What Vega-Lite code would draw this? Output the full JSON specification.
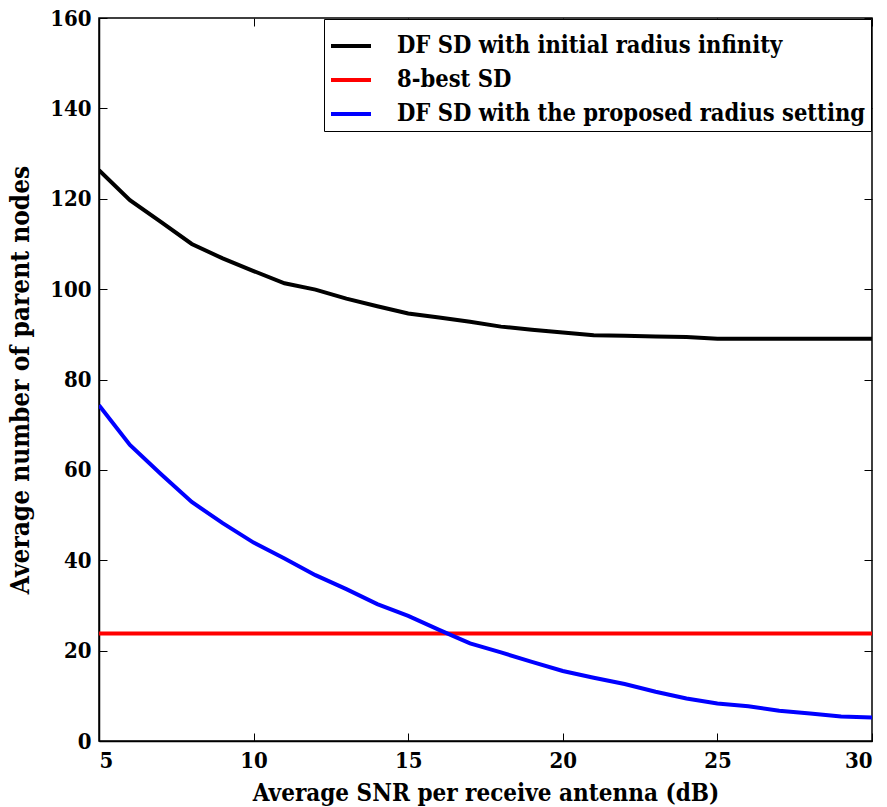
{
  "$schema": "https://vega.github.io/schema/vega-lite/v6.json",
  "autosize": "none",
  "padding": {"left": 99, "top": 18, "right": 15, "bottom": 66},
  "width": 773,
  "height": 723,
  "config": {
    "font": "DejaVu Serif Condensed",
    "view": {"stroke": "black", "strokeWidth": 1.5},
    "axis": {
      "labelFont": "DejaVu Serif Condensed", "labelFontWeight": "bold", "labelFontSize": 22, "labelColor": "black",
      "titleFont": "DejaVu Serif Condensed", "titleFontWeight": "bold", "titleFontSize": 25, "titleColor": "black",
      "domainColor": "black", "tickColor": "black", "grid": false
    }
  },
  "data": {"values": [
    {"snr": 5, "nodes": 126.3, "method": "DF SD with initial radius infinity"},
    {"snr": 6, "nodes": 119.7, "method": "DF SD with initial radius infinity"},
    {"snr": 7, "nodes": 114.9, "method": "DF SD with initial radius infinity"},
    {"snr": 8, "nodes": 110.0, "method": "DF SD with initial radius infinity"},
    {"snr": 9, "nodes": 106.8, "method": "DF SD with initial radius infinity"},
    {"snr": 10, "nodes": 104.0, "method": "DF SD with initial radius infinity"},
    {"snr": 11, "nodes": 101.3, "method": "DF SD with initial radius infinity"},
    {"snr": 12, "nodes": 99.9, "method": "DF SD with initial radius infinity"},
    {"snr": 13, "nodes": 97.9, "method": "DF SD with initial radius infinity"},
    {"snr": 14, "nodes": 96.2, "method": "DF SD with initial radius infinity"},
    {"snr": 15, "nodes": 94.6, "method": "DF SD with initial radius infinity"},
    {"snr": 16, "nodes": 93.7, "method": "DF SD with initial radius infinity"},
    {"snr": 17, "nodes": 92.8, "method": "DF SD with initial radius infinity"},
    {"snr": 18, "nodes": 91.7, "method": "DF SD with initial radius infinity"},
    {"snr": 19, "nodes": 91.0, "method": "DF SD with initial radius infinity"},
    {"snr": 20, "nodes": 90.4, "method": "DF SD with initial radius infinity"},
    {"snr": 21, "nodes": 89.8, "method": "DF SD with initial radius infinity"},
    {"snr": 22, "nodes": 89.7, "method": "DF SD with initial radius infinity"},
    {"snr": 23, "nodes": 89.5, "method": "DF SD with initial radius infinity"},
    {"snr": 24, "nodes": 89.4, "method": "DF SD with initial radius infinity"},
    {"snr": 25, "nodes": 89.0, "method": "DF SD with initial radius infinity"},
    {"snr": 26, "nodes": 89.0, "method": "DF SD with initial radius infinity"},
    {"snr": 27, "nodes": 89.0, "method": "DF SD with initial radius infinity"},
    {"snr": 28, "nodes": 89.0, "method": "DF SD with initial radius infinity"},
    {"snr": 29, "nodes": 89.0, "method": "DF SD with initial radius infinity"},
    {"snr": 30, "nodes": 89.0, "method": "DF SD with initial radius infinity"},
    {"snr": 5, "nodes": 23.8, "method": "8-best SD"},
    {"snr": 30, "nodes": 23.8, "method": "8-best SD"},
    {"snr": 5, "nodes": 74.3, "method": "DF SD with the proposed radius setting"},
    {"snr": 6, "nodes": 65.5, "method": "DF SD with the proposed radius setting"},
    {"snr": 7, "nodes": 59.1, "method": "DF SD with the proposed radius setting"},
    {"snr": 8, "nodes": 52.9, "method": "DF SD with the proposed radius setting"},
    {"snr": 9, "nodes": 48.2, "method": "DF SD with the proposed radius setting"},
    {"snr": 10, "nodes": 43.9, "method": "DF SD with the proposed radius setting"},
    {"snr": 11, "nodes": 40.4, "method": "DF SD with the proposed radius setting"},
    {"snr": 12, "nodes": 36.7, "method": "DF SD with the proposed radius setting"},
    {"snr": 13, "nodes": 33.6, "method": "DF SD with the proposed radius setting"},
    {"snr": 14, "nodes": 30.3, "method": "DF SD with the proposed radius setting"},
    {"snr": 15, "nodes": 27.7, "method": "DF SD with the proposed radius setting"},
    {"snr": 16, "nodes": 24.6, "method": "DF SD with the proposed radius setting"},
    {"snr": 17, "nodes": 21.6, "method": "DF SD with the proposed radius setting"},
    {"snr": 18, "nodes": 19.6, "method": "DF SD with the proposed radius setting"},
    {"snr": 19, "nodes": 17.5, "method": "DF SD with the proposed radius setting"},
    {"snr": 20, "nodes": 15.5, "method": "DF SD with the proposed radius setting"},
    {"snr": 21, "nodes": 14.0, "method": "DF SD with the proposed radius setting"},
    {"snr": 22, "nodes": 12.6, "method": "DF SD with the proposed radius setting"},
    {"snr": 23, "nodes": 10.9, "method": "DF SD with the proposed radius setting"},
    {"snr": 24, "nodes": 9.4, "method": "DF SD with the proposed radius setting"},
    {"snr": 25, "nodes": 8.3, "method": "DF SD with the proposed radius setting"},
    {"snr": 26, "nodes": 7.7, "method": "DF SD with the proposed radius setting"},
    {"snr": 27, "nodes": 6.7, "method": "DF SD with the proposed radius setting"},
    {"snr": 28, "nodes": 6.1, "method": "DF SD with the proposed radius setting"},
    {"snr": 29, "nodes": 5.4, "method": "DF SD with the proposed radius setting"},
    {"snr": 30, "nodes": 5.2, "method": "DF SD with the proposed radius setting"}
  ]},
  "resolve": {"axis": {"x": "independent", "y": "independent"}},
  "layer": [
    {
      "mark": {"type": "line", "strokeWidth": 4, "clip": true},
      "encoding": {
        "x": {"field": "snr", "type": "quantitative", "scale": {"domain": [5, 30], "nice": false},
              "axis": {"orient": "bottom", "title": "Average SNR per receive antenna (dB)", "titleFontSize": 24, "values": [5, 10, 15, 20, 25, 30], "ticks": false, "labelPadding": 9, "titlePadding": 10, "domainWidth": 1.5}},
        "y": {"field": "nodes", "type": "quantitative", "scale": {"domain": [0, 160], "nice": false},
              "axis": {"orient": "left", "title": "Average number of parent nodes", "titleFontSize": 26, "values": [0, 20, 40, 60, 80, 100, 120, 140, 160], "ticks": false, "labelPadding": 8, "titlePadding": 16, "domainWidth": 1.5}},
        "color": {"field": "method", "type": "nominal",
                  "scale": {"domain": ["DF SD with initial radius infinity", "8-best SD", "DF SD with the proposed radius setting"], "range": ["black", "red", "blue"]},
                  "legend": {"title": null, "orient": "top-right", "offset": 1, "symbolType": "stroke", "symbolSize": 1600, "symbolStrokeWidth": 4,
                             "labelFont": "DejaVu Serif Condensed", "labelFontWeight": "bold", "labelFontSize": 23.5, "labelColor": "black", "labelLimit": 0,
                             "strokeColor": "black", "fillColor": "white", "padding": 5, "rowPadding": 0, "labelOffset": 24}}
      }
    },
    {
      "mark": {"type": "line", "opacity": 0},
      "encoding": {
        "x": {"field": "snr", "type": "quantitative", "scale": {"domain": [5, 30], "nice": false},
              "axis": {"orient": "bottom", "offset": -8, "tickSize": 8, "labels": false, "domain": false, "title": null, "values": [5, 10, 15, 20, 25, 30]}},
        "y": {"field": "nodes", "type": "quantitative", "scale": {"domain": [0, 160], "nice": false},
              "axis": {"orient": "left", "offset": -8, "tickSize": 8, "labels": false, "domain": false, "title": null, "values": [0, 20, 40, 60, 80, 100, 120, 140, 160]}}
      }
    },
    {
      "mark": {"type": "line", "opacity": 0},
      "encoding": {
        "x": {"field": "snr", "type": "quantitative", "scale": {"domain": [5, 30], "nice": false},
              "axis": {"orient": "top", "offset": -8, "tickSize": 8, "labels": false, "domain": false, "title": null, "values": [5, 10, 15, 20, 25, 30]}},
        "y": {"field": "nodes", "type": "quantitative", "scale": {"domain": [0, 160], "nice": false},
              "axis": {"orient": "right", "offset": -8, "tickSize": 8, "labels": false, "domain": false, "title": null, "values": [0, 20, 40, 60, 80, 100, 120, 140, 160]}}
      }
    }
  ]
}
